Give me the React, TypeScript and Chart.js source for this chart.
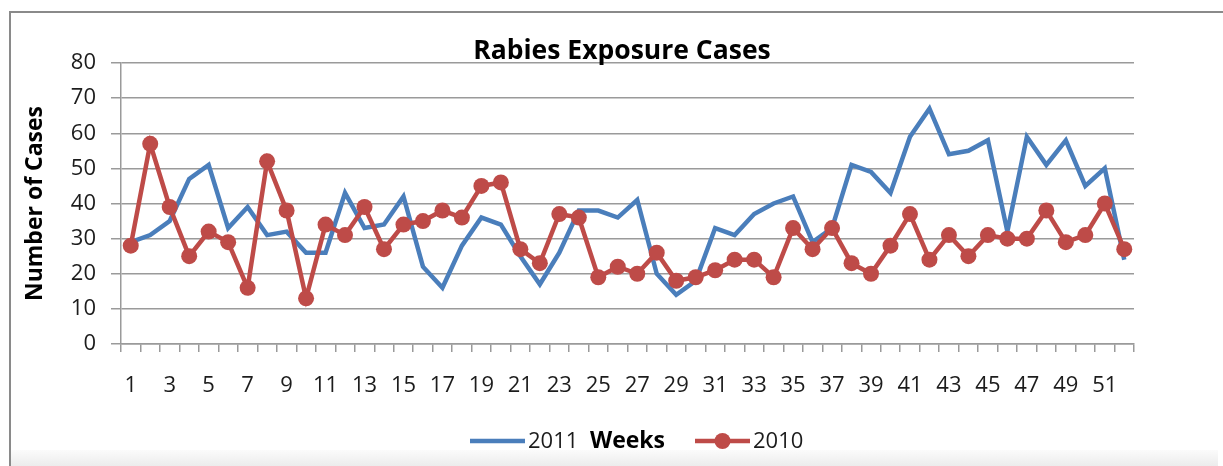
import React, { useEffect, useRef } from "react";
import { Chart, registerables } from "chart.js";

Chart.register(...registerables);

// ---------- data ----------
const weekLabels = [
  "1", "2", "3", "4", "5", "6", "7", "8", "9", "10",
  "11", "12", "13", "14", "15", "16", "17", "18", "19", "20",
  "21", "22", "23", "24", "25", "26", "27", "28", "29", "30",
  "31", "32", "33", "34", "35", "36", "37", "38", "39", "40",
  "41", "42", "43", "44", "45", "46", "47", "48", "49", "50",
  "51", "52",
];

const cases2011 = [
  29, 31, 35, 47, 51, 33, 39, 31, 32, 26,
  26, 43, 33, 34, 42, 22, 16, 28, 36, 34,
  25, 17, 26, 38, 38, 36, 41, 20, 14, 18,
  33, 31, 37, 40, 42, 29, 33, 51, 49, 43,
  59, 67, 54, 55, 58, 32, 59, 51, 58, 45,
  50, 24,
];

const cases2010 = [
  28, 57, 39, 25, 32, 29, 16, 52, 38, 13,
  34, 31, 39, 27, 34, 35, 38, 36, 45, 46,
  27, 23, 37, 36, 19, 22, 20, 26, 18, 19,
  21, 24, 24, 19, 33, 27, 33, 23, 20, 28,
  37, 24, 31, 25, 31, 30, 30, 38, 29, 31,
  40, 27,
];

const seriesNames = ["2011", "2010"];
const yTicks = { min: 0, max: 80, step: 10 };

const chartTitle = "Rabies Exposure Cases";
const xTitle = "Weeks";
const yTitle = "Number of Cases";

// ---------- styles ----------
const FONT = "'Open Sans', Lato, sans-serif";
const BLUE = "#4A7EBB";
const RED = "#BE4B48";
const GRID = "#9a9a9a";
const TEXT = "#1c1c1c";

const CANVAS_W = 1222;
const CANVAS_H = 440;
const LEGEND_Y = 428;

const excelLegend = {
  id: "excelLegend",
  afterDraw(chart: any) {
    const { ctx, chartArea } = chart;
    const cx = (chartArea.left + chartArea.right) / 2;
    const starts = [cx - 157.5, cx + 67.5];
    ctx.save();
    chart.data.datasets.forEach((ds: any, i: number) => {
      const x = starts[i];
      ctx.strokeStyle = ds.borderColor;
      ctx.lineWidth = 4.5;
      ctx.lineCap = "butt";
      ctx.beginPath();
      ctx.moveTo(x, LEGEND_Y);
      ctx.lineTo(x + 55, LEGEND_Y);
      ctx.stroke();
      if (ds.pointRadius > 0) {
        ctx.fillStyle = ds.pointBackgroundColor;
        ctx.beginPath();
        ctx.arc(x + 27.5, LEGEND_Y, ds.pointRadius, 0, Math.PI * 2);
        ctx.fill();
      }
      ctx.fillStyle = TEXT;
      ctx.font = `22px ${FONT}`;
      ctx.textBaseline = "middle";
      ctx.textAlign = "left";
      ctx.fillText(ds.label, x + 58, LEGEND_Y + 1);
    });
    ctx.restore();
  },
};

export default function App() {
  const canvasRef = useRef<HTMLCanvasElement | null>(null);

  useEffect(() => {
    if (!canvasRef.current) return;
    const chart = new Chart(canvasRef.current, {
      type: "line",
      data: {
        labels: weekLabels,
        datasets: [
          {
            label: seriesNames[0],
            data: cases2011,
            borderColor: BLUE,
            backgroundColor: BLUE,
            borderWidth: 4.5,
            pointRadius: 0,
            pointHoverRadius: 0,
            tension: 0,
            order: 1,
            yAxisID: "y",
          },
          {
            label: seriesNames[1],
            data: cases2010,
            borderColor: RED,
            backgroundColor: RED,
            borderWidth: 4.5,
            pointRadius: 8,
            pointBackgroundColor: RED,
            pointBorderColor: RED,
            pointBorderWidth: 0,
            pointHoverRadius: 8,
            tension: 0,
            order: 0,
            yAxisID: "y",
          },
        ],
      },
      options: {
        responsive: false,
        animation: false,
        events: [],
        layout: { padding: { left: 0, right: 0, top: 0, bottom: 49 } },
        plugins: {
          legend: { display: false },
          tooltip: { enabled: false },
          title: {
            display: true,
            text: chartTitle,
            color: "#000",
            font: { family: FONT, size: 26.5, weight: "bold" },
            padding: { top: 23, bottom: -4.8 },
          },
        },
        scales: {
          x: {
            type: "category",
            offset: true,
            grid: {
              offset: true,
              drawOnChartArea: false,
              drawTicks: true,
              tickLength: 8,
              color: GRID,
              lineWidth: 1.5,
            },
            border: { display: true, color: GRID, width: 1.5 },
            ticks: {
              autoSkip: false,
              maxRotation: 0,
              minRotation: 0,
              padding: 21,
              color: TEXT,
              font: { family: FONT, size: 22 },
              callback: (_v: any, i: number) => (i % 2 === 0 ? weekLabels[i] : ""),
            },
            title: {
              display: true,
              text: xTitle,
              color: "#000",
              font: { family: FONT, size: 23, weight: "bold" },
              padding: { top: 0, bottom: -50.8 },
            },
            afterFit: (scale: any) => {
              scale.height = 60;
            },
          },
          y: {
            position: "left",
            min: yTicks.min,
            max: yTicks.max,
            grid: {
              color: GRID,
              lineWidth: 1.5,
              tickLength: 10,
              drawTicks: true,
            },
            border: { display: true, color: GRID, width: 1.5 },
            ticks: {
              stepSize: yTicks.step,
              padding: 15,
              color: TEXT,
              font: { family: FONT, size: 22 },
            },
            title: {
              display: true,
              text: yTitle,
              color: "#000",
              font: { family: FONT, size: 23, weight: "bold" },
              padding: { top: 11, bottom: 0 },
            },
            afterFit: (scale: any) => {
              scale.width = 110;
            },
          },
          // empty right-hand margin (keeps the title centred like the original)
          yRight: {
            position: "right",
            display: true,
            grid: { display: false, drawTicks: false },
            border: { display: false },
            ticks: { display: false },
            afterFit: (scale: any) => {
              scale.width = 99;
            },
          },
        },
      },
      plugins: [excelLegend],
    });
    return () => chart.destroy();
  }, []);

  return (
    <div
      style={{
        position: "fixed",
        left: 0,
        top: 0,
        width: 1223,
        height: 466,
        overflow: "hidden",
        background: "#fff",
      }}
    >
      <div
        style={{
          position: "absolute",
          left: 9,
          top: 11,
          width: 1260,
          height: 500,
          borderLeft: "2px solid #8a8a8a",
          borderTop: "2px solid #8a8a8a",
          boxSizing: "border-box",
        }}
      />
      <div
        style={{
          position: "absolute",
          left: 11,
          top: 450,
          width: 1207,
          height: 16,
          background: "linear-gradient(#fbfbfb, #ececec)",
        }}
      />
      <canvas
        ref={canvasRef}
        width={CANVAS_W}
        height={CANVAS_H}
        style={{ position: "absolute", left: 11, top: 13, width: CANVAS_W, height: CANVAS_H }}
      />
    </div>
  );
}
